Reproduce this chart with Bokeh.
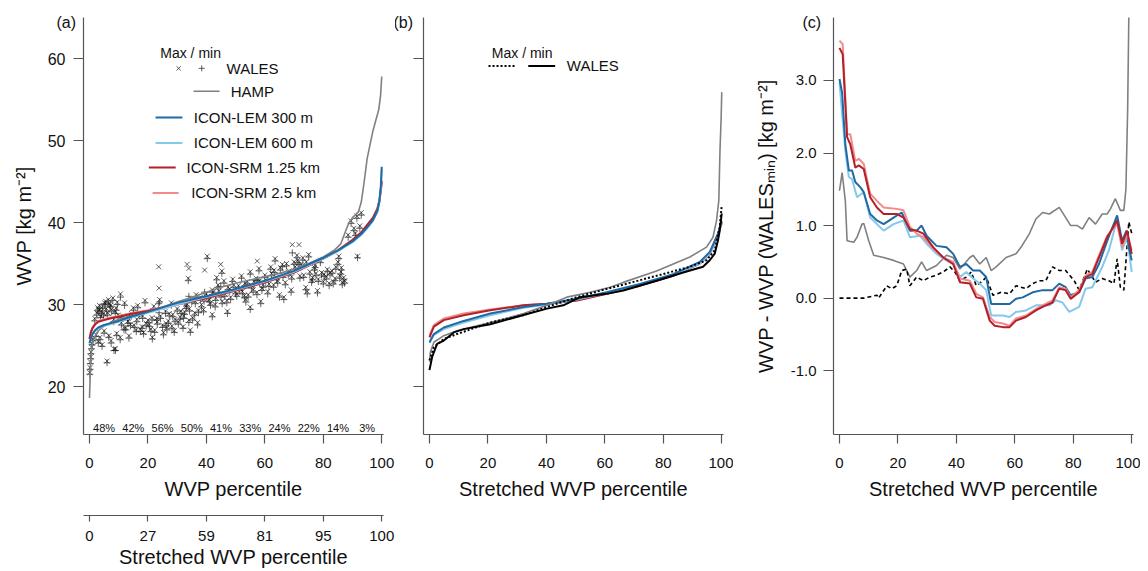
from bokeh.plotting import figure
from bokeh.layouts import row
from bokeh.models import Range1d, LinearAxis, FixedTicker, Label, Title, NumeralTickFormatter
from bokeh.embed import file_html
from bokeh.resources import INLINE

FONT = "Liberation Sans"
GRAY = "#808080"
C_LEM300 = "#1f6aa5"
C_LEM600 = "#86c8ec"
C_SRM125 = "#b2202a"
C_SRM25 = "#f28a8a"
AXC = "#555555"
TXT = "#111111"

# ---------------- data ----------------
pct_ticks = [0, 20, 40, 60, 80, 100]
stretched_labels = ["0", "27", "59", "81", "95", "100"]
wvp_ticks = [20, 30, 40, 50, 60]
diff_ticks = [-1, 0, 1, 2, 3]

bin_centres = [5, 15, 25, 35, 45, 55, 65, 75, 85, 95]
bin_share = ["48%", "42%", "56%", "50%", "41%", "33%", "24%", "22%", "14%", "3%"]

# WALES per-segment max / min vs WVP percentile (panel a)
wales_pct = [
    0.1, 0.2, 0.3, 0.4, 0.5, 0.7, 0.9, 1.2,
    2.5, 3.2, 3.8, 4.5, 5.2, 5.8, 6.5, 7.2, 8.0, 8.8, 9.5, 10.6,
    2.2, 3.0, 3.6, 4.3, 5.0, 6.0, 6.6, 7.4, 8.4, 8.9, 9.3, 10.5, 11.8,
    12, 13, 14, 15, 16, 17, 18, 19, 20, 13.5, 16.5, 18.5,
    21, 22, 23, 24, 25, 26, 27, 28, 29, 30, 23.7, 23.8, 21.5, 26.5, 28.5,
    31, 32, 33, 34, 35, 36, 37, 38, 39, 40, 33.4, 34, 33.8, 39.4, 40.3, 32.5, 36.5, 34.5,
    41, 42, 43, 44, 45, 46, 47, 48, 49, 50, 42, 47.2, 44.9, 45.3, 43.5,
    51, 52, 53, 54, 55, 56, 57, 58, 59, 60, 55, 58.6, 57.4, 53.5,
    61, 62, 63, 64, 65, 66, 67, 68, 69, 70, 69.4, 71.7, 63.5, 66.5,
    71, 72, 73, 74, 75, 76, 77, 78, 79, 80, 74.5, 77.5,
    81, 82, 83, 84, 85, 86, 87, 85.3, 86.5, 91.7,
    88.5, 89.5, 90.5, 91.5, 92.5, 93, 91,
    1.8, 2.8, 3.4, 4.1, 4.8, 5.5, 6.2, 6.9, 7.6, 8.3, 9.1, 9.8,
    10.9, 11.5, 12.4, 13.2, 14.4, 15.3, 16.2, 17.4, 18.2, 19.4,
    20.5, 21.4, 22.3, 23.2, 24.3, 25.3, 26.2, 27.3, 28.2, 29.3,
    30.4, 31.3, 32.2, 33.2, 34.2, 35.3, 36.2, 37.3, 38.3, 39.2,
    40.6, 41.4, 42.3, 43.2, 44.3, 45.4, 46.3, 47.4, 48.3, 49.4,
    50.4, 51.4, 52.3, 53.2, 54.3, 55.4, 56.3, 57.3, 58.2, 59.4,
    60.3, 61.4, 62.3, 63.2, 64.4, 65.3, 66.2, 67.4, 68.3, 69.2,
    70.4, 71.3, 72.4, 73.3, 74.2, 75.4, 76.3, 77.2, 78.3, 79.4,
    80.3, 81.4, 82.3, 83.4, 84.3, 85.6, 86.2, 87.3,
]
wales_max = [
    21.7, 22.3, 23.0, 23.6, 24.2, 24.8, 25.3, 25.8,
    29.0, 29.3, 28.6, 29.8, 30.2, 29.5, 30.6, 29.9, 30.8, 29.2, 30.3, 31.3,
    26.3, 25.5, 26.0, 25.1, 26.8, 23.1, 26.2, 25.6, 24.6, 24.6, 26.5, 26.0, 27.2,
    30.2, 28.4, 27.6, 29.6, 26.9, 28.9, 27.3, 30.5, 28.1, 26.2, 29.9, 26.6,
    27.0, 29.8, 28.3, 30.6, 27.5, 29.2, 28.0, 30.2, 26.8, 29.5, 34.6, 32.0, 26.0, 27.2, 28.8,
    28.5, 27.3, 29.8, 28.1, 30.6, 29.0, 27.8, 30.9, 29.4, 31.3, 34.9, 34.4, 33.2, 34.2, 35.9, 29.1, 31.2, 26.9,
    30.6, 31.8, 30.0, 32.4, 31.2, 32.9, 30.5, 31.9, 33.1, 31.6, 28.8, 29.2, 34.9, 34.1, 33.3,
    32.3, 33.5, 31.1, 32.8, 34.0, 31.8, 33.2, 34.4, 32.0, 33.6, 29.7, 30.4, 35.3, 30.6,
    31.6, 34.6, 32.4, 33.3, 31.2, 34.9, 32.7, 33.9, 31.8, 35.2, 37.3, 37.3, 35.6, 30.9,
    36.0, 33.5, 35.7, 32.1, 36.1, 33.0, 34.5, 31.7, 35.4, 32.8, 31.6, 33.8,
    33.4, 32.6, 34.1, 33.2, 35.2, 34.0, 33.3, 35.9, 32.7, 35.9,
    38.5, 40.2, 39.3, 40.8, 39.6, 41.2, 38.7,
    28.3, 29.6, 29.9, 29.2, 28.9, 30.4, 29.0, 30.1, 29.4, 28.2, 29.6, 28.7,
    27.8, 28.6, 27.2, 28.0, 28.9, 27.5, 28.2, 27.0, 28.6, 27.7,
    27.6, 28.4, 26.9, 27.9, 28.6, 26.6, 27.7, 28.9, 27.4, 28.2,
    27.9, 29.2, 28.6, 30.1, 29.5, 28.4, 30.4, 29.3, 30.0, 30.7,
    31.0, 30.2, 31.5, 30.8, 31.7, 30.4, 31.3, 32.1, 30.9, 32.4,
    31.3, 32.0, 31.6, 32.6, 31.2, 32.3, 32.8, 31.5, 32.9, 32.4,
    33.0, 32.5, 33.8, 34.2, 32.9, 34.5, 33.6, 35.0, 34.1, 33.4,
    34.6, 35.4, 34.9, 33.6, 35.2, 34.0, 33.3, 34.8, 33.1, 33.9,
    33.7, 34.3, 33.9, 32.8, 34.6, 33.5, 34.5, 32.9,
]
wales_min = [
    21.5, 22.1, 22.8, 23.4, 24.0, 24.6, 25.1, 25.6,
    28.7, 29.1, 28.4, 29.5, 30.0, 29.2, 30.3, 29.7, 30.5, 28.9, 30.0, 30.9,
    26.1, 25.3, 25.7, 24.9, 26.5, 22.9, 26.0, 25.3, 24.4, 24.4, 26.2, 25.7, 26.9,
    29.9, 28.1, 27.4, 29.3, 26.7, 28.6, 27.1, 30.2, 27.8, 25.9, 29.6, 26.4,
    26.7, 29.5, 28.1, 30.3, 27.2, 28.9, 27.7, 29.9, 26.6, 29.2, 30.1, 29.0, 25.8, 26.9, 28.5,
    28.2, 27.1, 29.5, 27.8, 30.3, 28.7, 27.5, 30.6, 29.1, 31.0, 30.2, 31.0, 32.9, 31.5, 35.6, 28.8, 30.9, 26.6,
    30.3, 31.5, 29.7, 32.1, 30.9, 32.6, 30.2, 31.6, 32.8, 31.3, 28.5, 28.9, 32.2, 33.8, 33.0,
    32.0, 33.2, 30.8, 32.5, 33.7, 31.5, 32.9, 34.1, 31.7, 33.3, 29.4, 30.1, 33.0, 30.3,
    31.3, 34.3, 32.1, 33.0, 30.9, 34.6, 32.4, 33.6, 31.5, 34.9, 36.3, 34.9, 35.3, 30.6,
    35.7, 33.2, 35.4, 31.8, 35.8, 32.7, 34.2, 31.4, 35.1, 32.5, 31.3, 33.5,
    33.1, 32.3, 33.8, 32.9, 34.9, 33.7, 33.0, 35.6, 32.4, 35.7,
    38.2, 39.9, 39.0, 40.5, 39.3, 40.9, 38.4,
    28.0, 29.3, 29.6, 28.9, 28.6, 30.1, 28.7, 29.8, 29.1, 27.9, 29.3, 28.4,
    27.5, 28.3, 26.9, 27.7, 28.6, 27.2, 27.9, 26.7, 28.3, 27.4,
    27.3, 28.1, 26.6, 27.6, 28.3, 26.3, 27.4, 28.6, 27.1, 27.9,
    27.6, 28.9, 28.3, 29.8, 29.2, 28.1, 30.1, 29.0, 29.7, 30.4,
    30.7, 29.9, 31.2, 30.5, 31.4, 30.1, 31.0, 31.8, 30.6, 32.1,
    31.0, 31.7, 31.3, 32.3, 30.9, 32.0, 32.5, 31.2, 32.6, 32.1,
    32.7, 32.2, 33.5, 33.9, 32.6, 34.2, 33.3, 34.7, 33.8, 33.1,
    34.3, 35.1, 34.6, 33.3, 34.9, 33.7, 33.0, 34.5, 32.8, 33.6,
    33.4, 34.0, 33.6, 32.5, 34.3, 33.2, 34.2, 32.6,
]

# Panel (a): WVP vs WVP percentile
a_hamp_x = [0, 0.3, 0.6, 1, 2, 3, 5, 8, 10, 15, 20, 25, 30, 35, 40, 45, 50, 55, 60, 65,
            70, 75, 80, 84, 86, 88, 89, 90, 92, 93, 94, 95, 96, 97, 98, 99, 99.6, 100]
a_hamp_y = [18.6, 22.0, 24.0, 25.3, 26.2, 26.8, 27.4, 27.9, 28.2, 28.7, 29.2, 29.7, 30.3, 30.9, 31.5, 32.1, 32.6, 33.0, 33.4, 33.8,
            34.3, 35.0, 35.8, 36.7, 37.4, 39.3, 40.1, 40.6, 41.3, 42.5, 45.0, 47.8, 49.5, 51.2, 52.5, 53.8, 55.5, 57.8]
a_mod_x = [0, 0.5, 1, 2, 3, 5, 7, 10, 15, 20, 30, 40, 50, 60, 70, 80, 85, 90, 93, 95, 97, 98.5, 99.2, 99.7, 100]
a_lem300 = [25.3, 25.9, 26.4, 26.9, 27.2, 27.5, 27.7, 28.0, 28.6, 29.1, 30.2, 31.0, 31.9, 32.9, 34.1, 35.7, 36.6, 37.7, 38.6, 39.4, 40.3, 41.4, 42.6, 44.5, 46.8]
a_lem600 = [25.2, 25.8, 26.3, 26.8, 27.1, 27.4, 27.6, 27.9, 28.5, 29.0, 30.0, 30.9, 31.8, 32.8, 34.0, 35.6, 36.5, 37.6, 38.5, 39.3, 40.2, 41.3, 42.5, 44.3, 46.5]
a_srm125 = [25.8, 26.6, 27.1, 27.6, 27.9, 28.1, 28.3, 28.5, 28.9, 29.2, 30.0, 30.8, 31.7, 32.7, 33.9, 35.6, 36.6, 37.9, 38.8, 39.7, 40.6, 41.7, 42.7, 44.0, 45.1]
a_srm25 = [25.9, 26.7, 27.2, 27.7, 28.0, 28.2, 28.4, 28.6, 29.0, 29.3, 30.0, 30.8, 31.7, 32.7, 33.9, 35.6, 36.5, 37.8, 38.7, 39.6, 40.5, 41.6, 42.6, 43.8, 44.9]

# Panel (b): WVP vs stretched WVP percentile
b_hamp_x = [0, 0.3, 1.5, 4.9, 9.4, 20.8, 32.2, 40.2, 47, 55, 61.8, 66.3, 77.7, 89.1, 94.8, 97, 98.2, 99, 99.4, 99.8, 100]
b_hamp_y = [23.0, 24.2, 25.4, 26.2, 26.8, 27.8, 28.9, 29.9, 30.9, 31.5, 32.1, 32.7, 34.1, 35.8, 37.0, 38.2, 40.2, 42.7, 48.8, 52.8, 55.9]
b_wmin_x = [0, 0.9, 2.6, 4.9, 8.3, 11.7, 20.8, 30, 40.2, 45.8, 51.5, 60.6, 66.3, 77.7, 86.8, 93.6, 95.9, 97.6, 98.7, 99.3, 100]
b_wmin_y = [22.0, 23.6, 25.2, 25.6, 26.6, 27.0, 27.6, 28.5, 29.5, 29.9, 30.9, 31.3, 31.7, 32.9, 33.9, 34.6, 35.4, 36.2, 37.8, 39.0, 41.1]
b_wmax_x = [0, 1.5, 4.9, 9.4, 20.8, 32.2, 40.2, 50.4, 60.6, 77.7, 89.1, 94.8, 97.6, 99.3, 100]
b_wmax_y = [23.2, 24.8, 25.8, 26.4, 27.8, 28.7, 29.7, 30.9, 31.9, 33.5, 34.6, 35.4, 36.6, 39.4, 42.1]
b_mod_x = [0, 1.5, 4.9, 11.7, 20.8, 32.2, 40.2, 50.4, 60.6, 72, 83.4, 92.5, 95.9, 98.7, 100]
b_lem300 = [25.4, 26.4, 27.2, 28.0, 28.9, 29.7, 30.1, 30.7, 31.5, 32.5, 33.7, 35.2, 36.4, 38.6, 40.2]
b_lem600 = [25.3, 26.3, 27.0, 27.8, 28.7, 29.6, 30.0, 30.6, 31.4, 32.4, 33.6, 35.0, 36.2, 38.4, 40.0]
b_srm125 = [26.0, 27.3, 28.1, 28.7, 29.3, 29.9, 30.1, 30.5, 31.3, 32.3, 33.5, 35.0, 36.2, 38.6, 40.0]
b_srm25 = [26.2, 27.5, 28.3, 28.9, 29.4, 29.9, 30.1, 30.5, 31.3, 32.3, 33.5, 35.0, 36.1, 38.5, 39.9]

# Panel (c): WVP - WVP(WALES_min) vs stretched WVP percentile
c_hamp_x = [0, 0.9, 2, 2.6, 4.9, 6, 7.7, 8.3, 10, 11.7, 15.1, 18.5, 21.9, 24.1, 26.4, 28.1, 29.8, 33.2, 36.6, 38.9,
            41.2, 44.6, 45.7, 48, 50.2, 51.9, 53.6, 57, 60.4, 62.1, 65, 67.2, 69.5, 71.8, 75.2, 77.4, 79.1, 81.4, 83.1,
            85.4, 87.6, 89.9, 91.6, 92.7, 94.4, 96.1, 97.3, 98.0, 98.6, 99.1]
c_hamp_y = [1.48, 1.73, 1.34, 0.79, 0.77, 0.84, 1.02, 1.03, 0.79, 0.59, 0.56, 0.52, 0.47, 0.29, 0.38, 0.50, 0.38, 0.45, 0.59, 0.56,
            0.40, 0.56, 0.59, 0.47, 0.56, 0.38, 0.43, 0.56, 0.61, 0.70, 0.89, 1.09, 1.18, 1.16, 1.25, 1.11, 1.00, 1.00, 0.95,
            1.11, 1.02, 1.16, 1.16, 1.23, 1.37, 1.21, 1.21, 1.5, 2.6, 4.2]
c_wmax_x = [0, 8.3, 12.8, 13.4, 16.2, 17.9, 19.6, 21.3, 23, 24.1, 26.4, 28.7, 30.9, 32.7, 35.5, 37.8, 39.5, 41.2, 43.4, 45.1,
            46.8, 49.1, 50.2, 52.5, 55.3, 58.2, 60.4, 63.8, 66.1, 68.4, 70.6, 72.9, 75.2, 77.4, 80.3, 82, 84.8, 87.6, 89.9,
            92.2, 93.9, 95, 96.1, 97.3, 99, 100]
c_wmax_y = [0.0, 0.0, 0.04, 0.0, 0.17, 0.13, 0.17, 0.38, 0.40, 0.17, 0.29, 0.24, 0.29, 0.31, 0.36, 0.43, 0.36, 0.24, 0.29, 0.36,
            0.17, 0.24, 0.29, 0.04, 0.08, 0.06, 0.17, 0.13, 0.20, 0.24, 0.24, 0.43, 0.38, 0.38, 0.24, 0.11, 0.40, 0.22, 0.27,
            0.24, 0.20, 0.54, 0.15, 0.11, 1.05, 0.89]
c_lem300_x = [0, 0.9, 2, 3.2, 4.3, 5.4, 7.1, 8.3, 10.5, 12.8, 15.1, 18.5, 21.3, 24.1, 26.4, 28.1, 29.8, 33.2, 36.6, 38.9,
              41.2, 43.4, 45.7, 48, 50.2, 51.9, 55.9, 58.2, 60.4, 62.7, 66.1, 69.5, 72.9, 75.2, 77.4, 79.1, 82, 84.2, 86.5,
              88.8, 91.6, 95, 96.7, 98.2, 99, 100]
c_lem300_y = [3.02, 2.83, 2.12, 1.76, 1.76, 1.60, 1.53, 1.46, 1.16, 1.07, 1.02, 1.11, 1.18, 0.93, 0.93, 1.00, 0.86, 0.72, 0.70, 0.61,
              0.43, 0.47, 0.38, 0.38, 0.29, -0.08, -0.08, -0.08, -0.01, 0.01, 0.08, 0.11, 0.11, 0.20, 0.15, 0.04, 0.08, 0.27, 0.29,
              0.47, 0.79, 1.14, 0.79, 0.93, 0.70, 0.52]
c_lem600_x = [0, 2, 3.2, 4.3, 6, 8.3, 10.5, 15.1, 18.5, 21.9, 24.1, 27.5, 29.8, 33.2, 36.6, 38.9, 41.2, 43.4, 45.7, 48,
              50.2, 51.9, 55.9, 58.2, 60.4, 63.8, 67.2, 71.8, 74, 76.3, 78.6, 82, 84.2, 86.5, 89.9, 92.2, 95, 96.7, 98.4, 100]
c_lem600_y = [2.97, 2.03, 1.67, 1.64, 1.39, 1.46, 1.11, 0.93, 1.02, 1.07, 0.84, 0.86, 0.75, 0.61, 0.52, 0.47, 0.29, 0.36, 0.27, 0.20,
              0.11, -0.24, -0.24, -0.26, -0.19, -0.17, -0.10, -0.10, -0.03, -0.06, -0.19, -0.12, 0.13, 0.15, 0.43, 0.66, 1.09, 0.66, 0.84, 0.36]
c_srm_x = [0, 1.1, 2.6, 3.7, 5.4, 6.6, 8.3, 10.5, 12.8, 15.1, 19.6, 21.9, 24.1, 26.4, 28.7, 32.1, 35.5, 38.9, 41.2, 44.6,
           46.8, 49.1, 51.4, 53.1, 55.9, 58.2, 60.4, 63.8, 67.2, 69.5, 72.9, 75.2, 77.4, 79.1, 82, 84.2, 86.5, 88.8, 91.6,
           95, 96.7, 98.4, 100]
c_srm125_y = [3.45, 3.36, 2.22, 2.12, 1.80, 1.83, 1.78, 1.39, 1.25, 1.16, 1.16, 1.11, 0.95, 0.93, 0.89, 0.70, 0.56, 0.47, 0.22, 0.20,
              0.01, -0.01, -0.31, -0.38, -0.40, -0.40, -0.31, -0.26, -0.17, -0.12, -0.06, 0.13, 0.11, -0.01, 0.08, 0.29, 0.33, 0.56, 0.84,
              1.07, 0.75, 0.93, 0.61]
c_srm25_y = [3.55, 3.50, 2.26, 2.26, 1.89, 1.92, 1.85, 1.44, 1.34, 1.25, 1.23, 1.21, 0.98, 0.89, 0.84, 0.68, 0.56, 0.50, 0.27, 0.24,
             0.06, 0.01, -0.26, -0.33, -0.35, -0.38, -0.28, -0.24, -0.15, -0.10, -0.03, 0.15, 0.13, 0.01, 0.11, 0.31, 0.36, 0.59, 0.86,
             1.02, 0.70, 0.89, 0.66]

legend_series = ["HAMP", "ICON-LEM 300 m", "ICON-LEM 600 m", "ICON-SRM 1.25 km", "ICON-SRM 2.5 km"]
legend_colors = [GRAY, C_LEM300, C_LEM600, C_SRM125, C_SRM25]

# ---------------- layout ----------------
H = 571
TOP, BOT = 17, 137
XR = (-2.05, 100.6)


def make_fig(width, left, right, yr):
    p = figure(width=width, height=H, x_range=Range1d(*XR), y_range=Range1d(*yr),
               output_backend="svg", toolbar_location=None,
               min_border_left=left, min_border_right=right,
               min_border_top=TOP, min_border_bottom=BOT)
    p.outline_line_color = None
    p.xgrid.visible = False
    p.ygrid.visible = False
    p.background_fill_color = "white"
    p.border_fill_color = "white"
    return p


def style_axis(ax, tick_out=9, label_standoff=9, title_standoff=5, tick_size="15px"):
    ax.axis_line_color = AXC
    ax.axis_line_width = 1.2
    ax.major_tick_line_color = AXC
    ax.major_tick_line_width = 1.2
    ax.major_tick_in = 0
    ax.major_tick_out = tick_out
    ax.minor_tick_line_color = None
    ax.major_label_text_font = FONT
    ax.major_label_text_font_size = tick_size
    ax.major_label_text_color = TXT
    ax.major_label_standoff = label_standoff
    ax.axis_label_text_font = FONT
    ax.axis_label_text_font_size = "20px"
    ax.axis_label_text_font_style = "normal"
    ax.axis_label_text_color = TXT
    ax.axis_label_standoff = title_standoff


def add_label(p, x, y, text, size="15px", align="center"):
    p.add_layout(Label(x=x, y=y, text=text, text_font=FONT, text_font_size=size,
                       text_color=TXT, text_align=align, text_baseline="middle"))


def panel_title(p, text, offset):
    p.add_layout(Title(text=text, align="left", offset=offset, standoff=-26,
                       text_font=FONT, text_font_size="16px", text_font_style="normal",
                       text_color=TXT), "above")


# ---------- panel (a) ----------
pa = make_fig(395, 83, 12, (14.15, 65.0))
pa.xaxis.ticker = FixedTicker(ticks=pct_ticks)
pa.xaxis.axis_label = "WVP percentile"
style_axis(pa.xaxis[0], tick_out=9, label_standoff=14, title_standoff=7)
pa.yaxis.ticker = FixedTicker(ticks=wvp_ticks)
pa.yaxis.axis_label = "WVP [kg m⁻²]"
style_axis(pa.yaxis[0], tick_out=10, label_standoff=8, title_standoff=10, tick_size="16px")

pa.extra_x_ranges = {"stretch": Range1d(*XR)}
spacer = LinearAxis(x_range_name="stretch", ticker=FixedTicker(ticks=[]),
                    axis_line_color=None, major_tick_line_color=None, minor_tick_line_color=None,
                    major_tick_in=0, major_tick_out=0, major_label_standoff=0,
                    axis_label=" ", axis_label_text_font_size="9px", axis_label_standoff=0)
pa.add_layout(spacer, "below")
ax2 = LinearAxis(x_range_name="stretch", ticker=FixedTicker(ticks=pct_ticks),
                 major_label_overrides={t: s for t, s in zip(pct_ticks, stretched_labels)},
                 axis_label="Stretched WVP percentile")
style_axis(ax2, tick_out=6, label_standoff=9, title_standoff=2)
pa.add_layout(ax2, "below")

pa.scatter(wales_pct, wales_max, marker="x", size=7, line_color="#1a1a1a", line_width=0.8, line_alpha=0.85)
pa.scatter(wales_pct, wales_min, marker="cross", size=7, line_color="#1a1a1a", line_width=0.8, line_alpha=0.85)
pa.line(a_hamp_x, a_hamp_y, line_color=GRAY, line_width=1.6)
pa.line(a_mod_x, a_srm25, line_color=C_SRM25, line_width=2)
pa.line(a_mod_x, a_srm125, line_color=C_SRM125, line_width=2)
pa.line(a_mod_x, a_lem600, line_color=C_LEM600, line_width=2)
pa.line(a_mod_x, a_lem300, line_color=C_LEM300, line_width=2)

for xc, s in zip(bin_centres, bin_share):
    add_label(pa, xc, 14.94, s, size="11px")

panel_title(pa, "(a)", -27)

# legend of (a)
add_label(pa, 34.6, 60.7, "Max / min", size="14px")
pa.scatter([30.5], [58.8], marker="x", size=6, line_color="#333333", line_width=0.8)
pa.scatter([38.4], [58.8], marker="cross", size=6, line_color="#333333", line_width=0.8)
add_label(pa, 46.9, 58.8, "WALES", size="15px", align="left")
leg_rows = [(35.6, 44.5, 56.0, 48.3), (22.6, 31.8, 52.8, 35.7), (22.6, 31.8, 49.7, 35.7),
            (20.3, 29.5, 46.7, 33.2), (21.6, 30.5, 43.6, 34.8)]
for (x0, x1, yy, xt), name, col in zip(leg_rows, legend_series, legend_colors):
    pa.line([x0, x1], [yy, yy], line_color=col, line_width=2 if col != GRAY else 1.6)
    add_label(pa, xt, yy, name, size="15px", align="left")

# ---------- panel (b) ----------
pb = make_fig(338, 28, 10, (14.15, 65.0))
pb.xaxis.ticker = FixedTicker(ticks=pct_ticks)
pb.xaxis.axis_label = "Stretched WVP percentile"
style_axis(pb.xaxis[0], tick_out=9, label_standoff=14, title_standoff=7)
pb.yaxis.ticker = FixedTicker(ticks=wvp_ticks)
pb.yaxis.major_label_overrides = {t: "" for t in wvp_ticks}
style_axis(pb.yaxis[0], tick_out=10, label_standoff=0, title_standoff=0)

pb.line(b_mod_x, b_srm25, line_color=C_SRM25, line_width=2)
pb.line(b_mod_x, b_srm125, line_color=C_SRM125, line_width=2)
pb.line(b_mod_x, b_lem600, line_color=C_LEM600, line_width=2)
pb.line(b_mod_x, b_lem300, line_color=C_LEM300, line_width=2)
pb.line(b_hamp_x, b_hamp_y, line_color=GRAY, line_width=1.6)
pb.line(b_wmax_x, b_wmax_y, line_color="black", line_width=2, line_dash="2 2")
pb.line(b_wmin_x, b_wmin_y, line_color="black", line_width=2)

panel_title(pb, "(b)", -30)
add_label(pb, 31.7, 60.7, "Max / min", size="14px")
pb.line([20.2, 29.7], [59.1, 59.1], line_color="black", line_width=2, line_dash="2 2")
pb.line([33.8, 43.0], [59.1, 59.1], line_color="black", line_width=2)
add_label(pb, 47.0, 59.1, "WALES", size="15px", align="left")

# ---------- panel (c) ----------
pc = make_fig(407, 100, 7, (-1.88, 3.868))
pc.xaxis.ticker = FixedTicker(ticks=pct_ticks)
pc.xaxis.axis_label = "Stretched WVP percentile"
style_axis(pc.xaxis[0], tick_out=9, label_standoff=14, title_standoff=7)
pc.yaxis.ticker = FixedTicker(ticks=diff_ticks)
pc.yaxis.formatter = NumeralTickFormatter(format="0.0")
pc.yaxis.axis_label = "WVP - WVP (WALESₘᵢₙ) [kg m⁻²]"
style_axis(pc.yaxis[0], tick_out=10, label_standoff=7, title_standoff=11)

pc.line(c_hamp_x, c_hamp_y, line_color=GRAY, line_width=1.6)
pc.line(c_wmax_x, c_wmax_y, line_color="black", line_width=1.6, line_dash="4 3")
pc.line(c_lem600_x, c_lem600_y, line_color=C_LEM600, line_width=2)
pc.line(c_lem300_x, c_lem300_y, line_color=C_LEM300, line_width=2)
pc.line(c_srm_x, c_srm25_y, line_color=C_SRM25, line_width=2)
pc.line(c_srm_x, c_srm125_y, line_color=C_SRM125, line_width=2)

panel_title(pc, "(c)", -31)

layout = row(pa, pb, pc)
open("out.html", "w").write(file_html(layout, INLINE))
